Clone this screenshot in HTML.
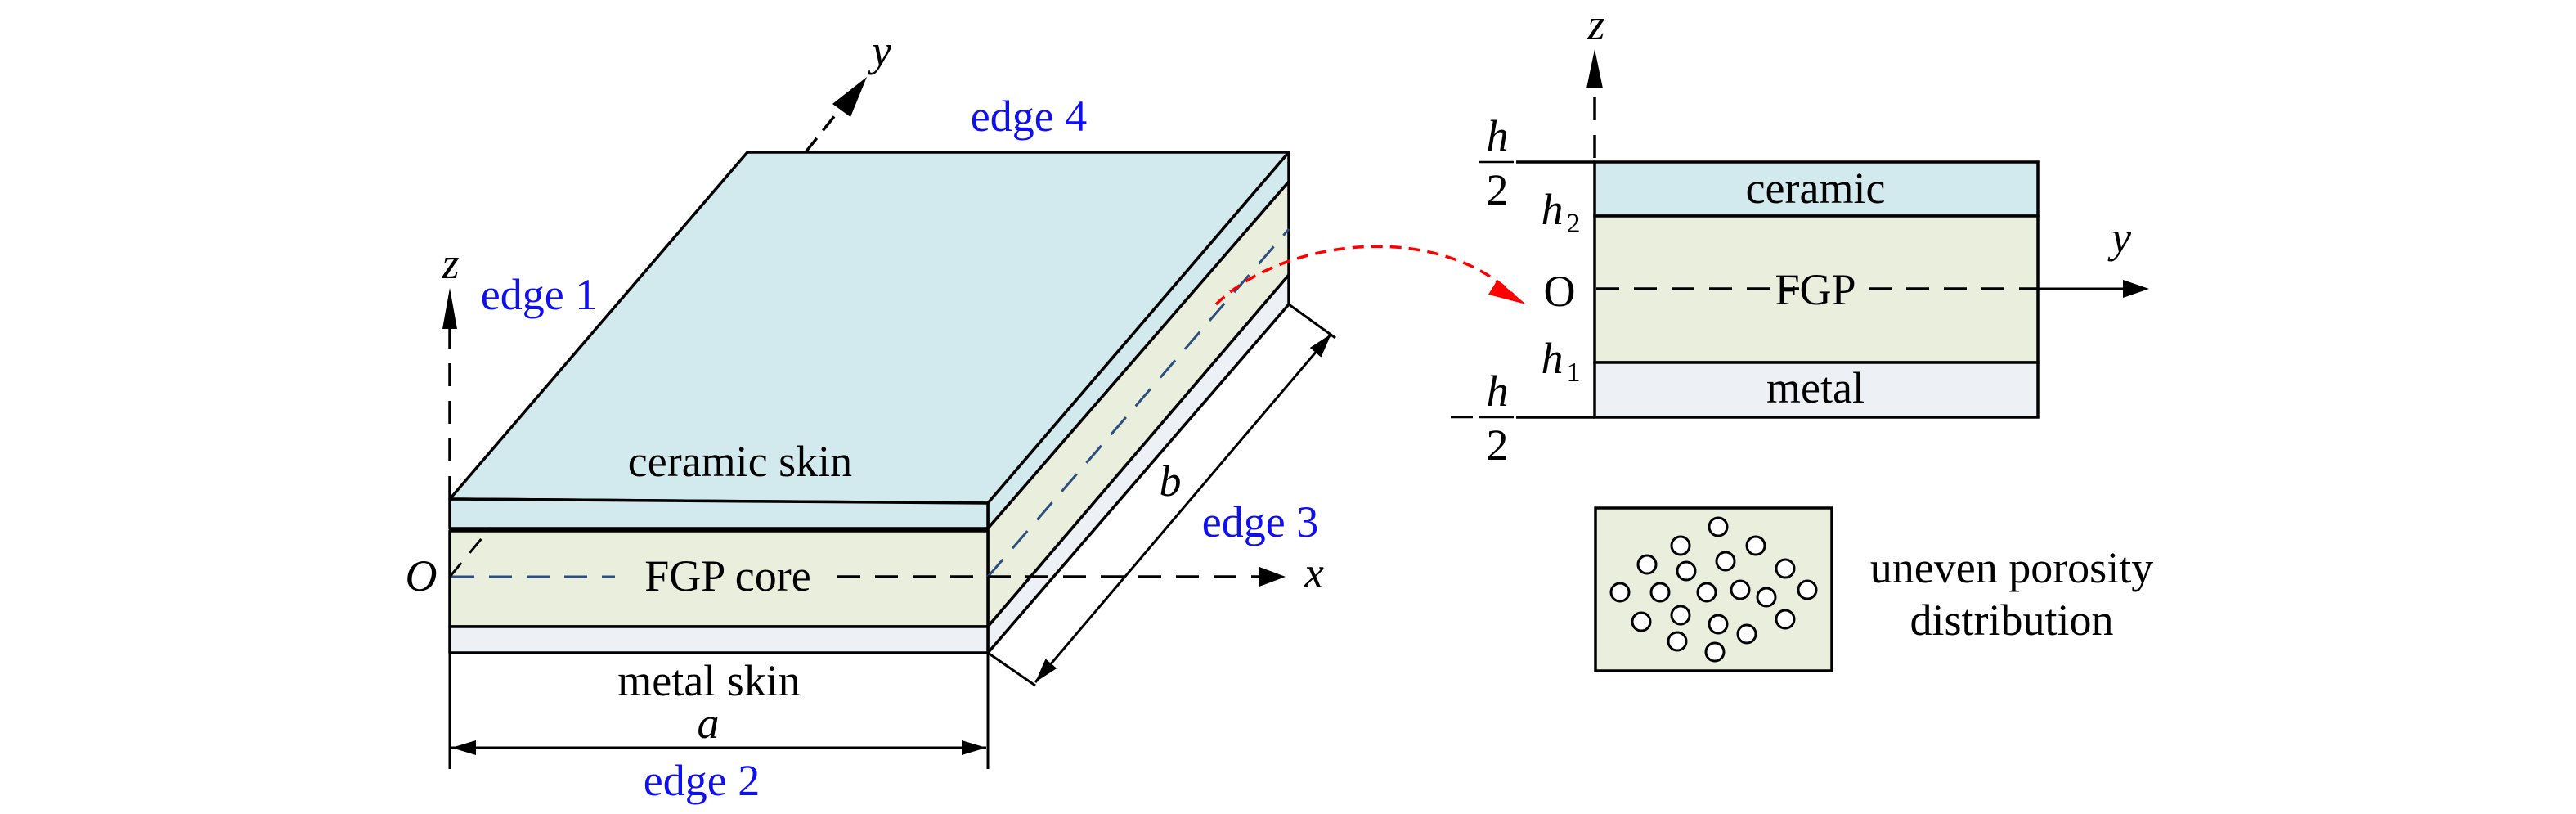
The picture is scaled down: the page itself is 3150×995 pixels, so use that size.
<!DOCTYPE html>
<html><head><meta charset="utf-8"><style>
html,body{margin:0;padding:0;background:#fff}
svg{display:block}
text{font-family:"Liberation Serif",serif;font-size:54px}
.b{fill:#1010ee}
.i{font-style:italic}
</style></head><body>
<svg width="3150" height="995" viewBox="0 0 3150 995" xmlns="http://www.w3.org/2000/svg">
<defs>
<marker id="ah" viewBox="0 0 10 10" refX="10" refY="5" markerWidth="30" markerHeight="18" markerUnits="userSpaceOnUse" orient="auto-start-reverse" preserveAspectRatio="none"><path d="M0,0 L10,5 L0,10 z" fill="#000"/></marker>
</defs>
<g stroke="#000" stroke-width="3.5" stroke-linejoin="round">
<polygon points="914,186 1576,186 1208,615 550,610" fill="#d2e9ee"/>
<polygon points="1208,615 1576,186 1576,222 1208,646" fill="#d2e9ee"/>
<polygon points="1208,646 1576,222 1576,336 1208,766" fill="#eaeedd"/>
<polygon points="1208,766 1576,336 1576,372 1208,798" fill="#edf1f5"/>
<polygon points="550,610 1208,615 1208,646 550,646" fill="#d2e9ee"/>
<rect x="550" y="649" width="658" height="117" fill="#eaeedd"/>
<rect x="550" y="766" width="658" height="32" fill="#edf1f5"/>
</g>
<line x1="550" y1="646" x2="1208" y2="646" stroke="#000" stroke-width="3"/>
<g stroke="#2d4f7f" stroke-width="3" stroke-dasharray="28,18" fill="none">
<line x1="552" y1="705" x2="752" y2="705"/>
<line x1="1208" y1="705" x2="1576" y2="280"/>
</g>
<line x1="1024" y1="705" x2="1545" y2="705" stroke="#000" stroke-width="3.5" stroke-dasharray="28,18"/>
<polygon points="1540,693 1572,705 1540,717" fill="#000"/>
<text x="1595" y="718" class="i">x</text>
<line x1="550" y1="610" x2="550" y2="400" stroke="#000" stroke-width="3.5" stroke-dasharray="28,18"/>
<polygon points="541,402 550,352 559,402" fill="#000"/>
<text x="551" y="340" class="i" text-anchor="middle">z</text>
<line x1="550" y1="705" x2="600" y2="645" stroke="#000" stroke-width="3" stroke-dasharray="22,16"/>
<line x1="985" y1="186" x2="1030" y2="130" stroke="#000" stroke-width="3.5" stroke-dasharray="22,12"/>
<polygon points="1018,127 1060,94 1040,143" fill="#000"/>
<text x="1078" y="80" class="i" text-anchor="middle">y</text>
<text x="515" y="722" class="i" text-anchor="middle">O</text>
<text x="659" y="378" class="b" text-anchor="middle">edge 1</text>
<text x="1258" y="160" class="b" text-anchor="middle">edge 4</text>
<text x="1541" y="656" class="b" text-anchor="middle">edge 3</text>
<text x="858" y="972" class="b" text-anchor="middle">edge 2</text>
<text x="905" y="582" text-anchor="middle">ceramic skin</text>
<text x="890" y="722" text-anchor="middle">FGP core</text>
<text x="867" y="850" text-anchor="middle">metal skin</text>
<text x="866" y="902" class="i" text-anchor="middle">a</text>
<text x="1431" y="606" class="i" text-anchor="middle">b</text>
<g stroke="#000" stroke-width="3">
<line x1="550" y1="798" x2="550" y2="940"/>
<line x1="1208" y1="798" x2="1208" y2="940"/>
<line x1="552" y1="914" x2="1206" y2="914" marker-start="url(#ah)" marker-end="url(#ah)"/>
<line x1="1576" y1="372" x2="1633" y2="413"/>
<line x1="1208" y1="798" x2="1266" y2="838"/>
<line x1="1628" y1="408" x2="1266" y2="834" marker-start="url(#ah)" marker-end="url(#ah)"/>
</g>
<path d="M1487,372 C1570,290 1760,270 1852,362" fill="none" stroke="#ff0000" stroke-width="3.5" stroke-dasharray="14,9"/>
<polygon points="1831,342 1866,372 1820,360" fill="#ff0000"/>
<g stroke="#000" stroke-width="3.5">
<rect x="1950" y="198" width="542" height="66" fill="#d2e9ee"/>
<rect x="1950" y="264" width="542" height="179" fill="#eaeedd"/>
<rect x="1950" y="443" width="542" height="67" fill="#edf1f5"/>
<line x1="1854" y1="198" x2="1950" y2="198"/>
<line x1="1854" y1="510" x2="1950" y2="510"/>
<line x1="1809" y1="198" x2="1851" y2="198" stroke-width="2.5"/>
<line x1="1809" y1="510" x2="1851" y2="510" stroke-width="2.5"/>
<line x1="1774" y1="510" x2="1801" y2="510" stroke-width="2.5"/>
</g>
<line x1="1950" y1="198" x2="1950" y2="105" stroke="#000" stroke-width="3.5" stroke-dasharray="28,18" stroke-dashoffset="-5"/>
<polygon points="1940,108 1950,60 1960,108" fill="#000"/>
<text x="1952" y="48" class="i" text-anchor="middle">z</text>
<line x1="1952" y1="353" x2="2200" y2="353" stroke="#000" stroke-width="3.5" stroke-dasharray="28,18"/>
<line x1="2285" y1="353" x2="2492" y2="353" stroke="#000" stroke-width="3.5" stroke-dasharray="28,18"/>
<line x1="2492" y1="353" x2="2600" y2="353" stroke="#000" stroke-width="3"/>
<polygon points="2596,342 2628,353 2596,364" fill="#000"/>
<text x="2594" y="308" class="i" text-anchor="middle">y</text>
<text x="2220" y="248" text-anchor="middle">ceramic</text>
<text x="2220" y="372" text-anchor="middle">FGP</text>
<text x="2220" y="492" text-anchor="middle">metal</text>
<text x="1907" y="374" text-anchor="middle">O</text>
<text x="1831" y="184" class="i" text-anchor="middle">h</text>
<text x="1831" y="250" text-anchor="middle">2</text>
<text x="1831" y="496" class="i" text-anchor="middle">h</text>
<text x="1831" y="562" text-anchor="middle">2</text>
<text x="1898" y="274" class="i" text-anchor="middle">h</text>
<text x="1924" y="284" text-anchor="middle" style="font-size:34px">2</text>
<text x="1898" y="456" class="i" text-anchor="middle">h</text>
<text x="1924" y="466" text-anchor="middle" style="font-size:34px">1</text>
<rect x="1951" y="621" width="289" height="199" fill="#eaeedd" stroke="#000" stroke-width="3.5"/>
<g fill="#fff" stroke="#000" stroke-width="3">
<circle cx="2101" cy="644" r="11"/><circle cx="2055" cy="667" r="11"/><circle cx="2147" cy="667" r="11"/>
<circle cx="2014" cy="690" r="11"/><circle cx="2110" cy="686" r="11"/><circle cx="2062" cy="698" r="11"/>
<circle cx="2183" cy="695" r="11"/><circle cx="1981" cy="724" r="11"/><circle cx="2030" cy="724" r="11"/>
<circle cx="2087" cy="724" r="11"/><circle cx="2128" cy="721" r="11"/><circle cx="2160" cy="730" r="11"/>
<circle cx="2210" cy="721" r="11"/><circle cx="2007" cy="760" r="11"/><circle cx="2055" cy="752" r="11"/>
<circle cx="2101" cy="763" r="11"/><circle cx="2183" cy="757" r="11"/><circle cx="2136" cy="775" r="11"/>
<circle cx="2051" cy="784" r="11"/><circle cx="2097" cy="797" r="11"/>
</g>
<text x="2460" y="712" text-anchor="middle">uneven porosity</text>
<text x="2460" y="776" text-anchor="middle">distribution</text>
</svg>
</body></html>
